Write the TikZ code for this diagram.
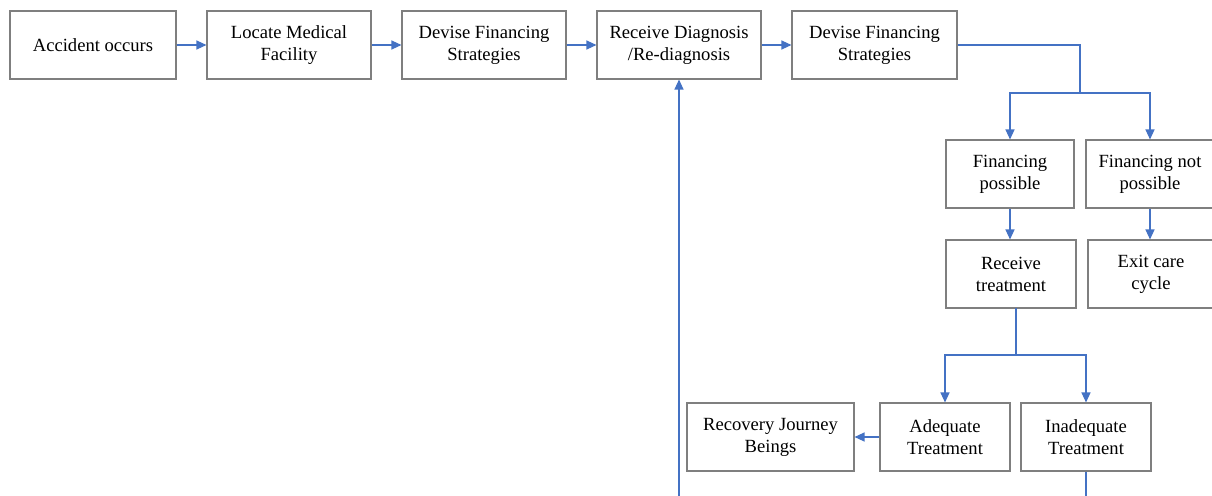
\documentclass[tikz,border=0pt]{standalone}
\usepackage{fontspec}
\setmainfont{Liberation Serif}
\usetikzlibrary{arrows.meta}
\definecolor{linkblue}{HTML}{4472C4}
\definecolor{boxgray}{HTML}{7F7F7F}
\tikzset{
  box/.style={draw=boxgray, line width=1.1pt, align=center, inner sep=0pt,
    minimum height=68, font=\fontsize{18.6}{22}\selectfont, text=black},
  link/.style={draw=linkblue, line width=1.2pt},
  arr/.style={link, -{Triangle[length=10pt,width=9pt]}},
}
\begin{document}
\begin{tikzpicture}[x=1pt,y=-1pt]
\useasboundingbox (0,0) rectangle (1212,495);
\fill[white] (0,0) rectangle (1212,495);
\node[box, minimum width=166] (acc) at (93,45) {Accident occurs};
\node[box, minimum width=164] (loc) at (289,45) {Locate Medical\\Facility};
\node[box, minimum width=164] (dev1) at (484,45) {Devise Financing\\Strategies};
\node[box, minimum width=164] (diag) at (679,45) {Receive Diagnosis\\/Re-diagnosis};
\node[box, minimum width=165] (dev2) at (874.5,45) {Devise Financing\\Strategies};
\node[box, minimum width=128] (fp) at (1010,174) {Financing\\possible};
\node[box, minimum width=128] (fnp) at (1150,174) {Financing not\\possible};
\node[box, minimum width=130] (rt) at (1011,274) {Receive\\treatment};
\node[box, minimum width=126] (exit) at (1151,274) {Exit care\\cycle};
\node[box, minimum width=130] (ad) at (945,437) {Adequate\\Treatment};
\node[box, minimum width=130] (inad) at (1086,437) {Inadequate\\Treatment};
\node[box, minimum width=167] (rec) at (770.5,437) {Recovery Journey\\Beings};
\coordinate (j1) at (1080,93);
\coordinate (j2) at (1016,355);
\coordinate (rtout) at (1016,308);
\coordinate (loopin) at (679,500);
\coordinate (inadout) at (1086,500);
\draw[arr] (acc) -- (loc);
\draw[arr] (loc) -- (dev1);
\draw[arr] (dev1) -- (diag);
\draw[arr] (diag) -- (dev2);
\draw[link] (dev2.east) -| (j1);
\draw[arr] (j1) -| (fp.north);
\draw[arr] (j1) -| (fnp.north);
\draw[arr] (fp.south) -- (fp.south |- rt.north);
\draw[arr] (fnp.south) -- (fnp.south |- exit.north);
\draw[link] (rtout) -- (j2);
\draw[arr] (j2) -| (ad.north);
\draw[arr] (j2) -| (inad.north);
\draw[arr] (ad) -- (rec);
\draw[link] (inad.south) -- (inadout);
\draw[arr] (loopin) -- (diag.south);
\end{tikzpicture}
\end{document}
